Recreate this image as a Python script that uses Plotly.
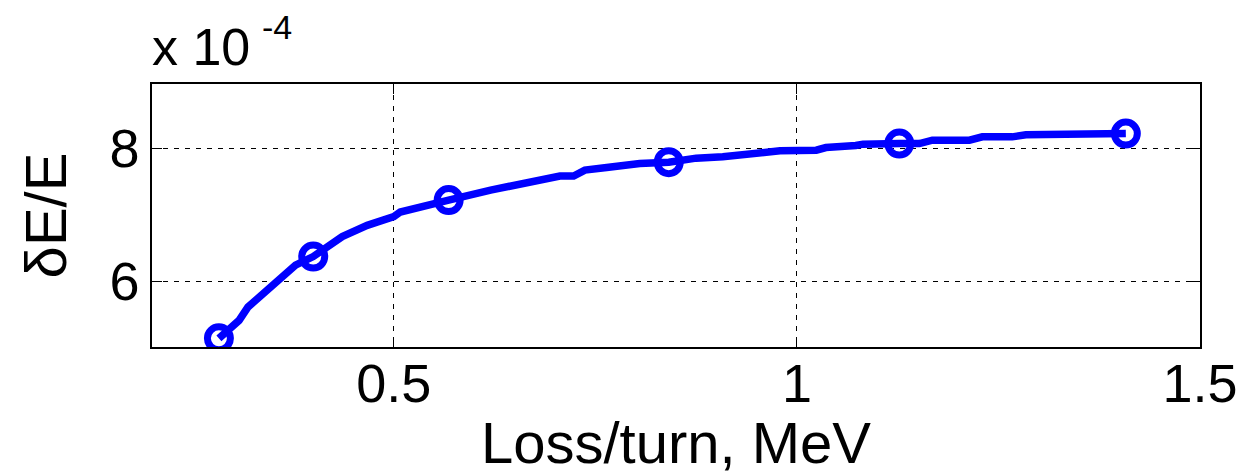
import plotly.graph_objects as go

# Energy spread (in units of 1e-4) versus energy loss per turn (MeV)
loss_mev = [0.283, 0.308, 0.319, 0.362, 0.378, 0.400, 0.436, 0.467, 0.500, 0.508,
            0.554, 0.568, 0.620, 0.669, 0.686, 0.706, 0.723, 0.737, 0.764, 0.805,
            0.841, 0.875, 0.908, 0.950, 0.979, 1.024, 1.036, 1.073, 1.082, 1.127,
            1.152, 1.168, 1.214, 1.230, 1.267, 1.284, 1.333, 1.350, 1.408]
spread_e4 = [5.14, 5.41, 5.61, 6.07, 6.24, 6.37, 6.67, 6.84, 6.97, 7.04,
             7.19, 7.22, 7.37, 7.49, 7.51, 7.58, 7.58, 7.67, 7.71, 7.77,
             7.79, 7.85, 7.87, 7.94, 7.96, 7.97, 8.01, 8.04, 8.06, 8.07,
             8.07, 8.12, 8.12, 8.17, 8.17, 8.20, 8.20, 8.22, 8.22]

# Computed operating points
point_loss = [0.283, 0.400, 0.568, 0.841, 1.127, 1.408]
point_spread_e4 = [5.14, 6.37, 7.22, 7.79, 8.07, 8.22]

x_ticks = [0.5, 1, 1.5]
x_tick_text = ["0.5", "1", "1.5"]
y_ticks = [6, 8]
y_tick_text = ["6", "8"]

FONT = "Liberation Sans, Arial, Helvetica, sans-serif"
BLUE = "#0000FF"

fig = go.Figure()
fig.add_trace(go.Scatter(
    x=loss_mev, y=spread_e4, mode="lines",
    line=dict(color=BLUE, width=7.5),
    showlegend=False, hoverinfo="skip",
))
fig.add_trace(go.Scatter(
    x=point_loss, y=point_spread_e4, mode="markers",
    marker=dict(symbol="circle-open", size=23, color=BLUE,
                line=dict(color=BLUE, width=7)),
    showlegend=False,
))

axis_common = dict(
    showline=True, linecolor="black", linewidth=1.5, mirror="ticks",
    ticks="inside", ticklen=10, tickcolor="black", tickwidth=1,
    showgrid=True, gridcolor="black", gridwidth=1, griddash="5px,6px",
    zeroline=False, automargin=False,
    tickfont=dict(family=FONT, size=54, color="black"),
)

fig.update_layout(
    width=1243, height=475,
    margin=dict(l=152, r=43, t=84, b=128),
    paper_bgcolor="white", plot_bgcolor="white",
    xaxis=dict(range=[0.2, 1.5], tickvals=x_ticks, ticktext=x_tick_text,
               ticklabelstandoff=-12,
               title=dict(text="Loss/turn, MeV", standoff=0,
                          font=dict(family=FONT, size=58, color="black")),
               **axis_common),
    yaxis=dict(range=[5.01, 8.965], tickvals=y_ticks, ticktext=y_tick_text,
               title=dict(text="δE/E", standoff=24,
                          font=dict(family=FONT, size=58, color="black")),
               **axis_common),
    annotations=[
        dict(text="x 10", xref="paper", yref="paper",
             x=0, y=1, xanchor="left", yanchor="bottom", yshift=6, xshift=-2,
             showarrow=False, font=dict(family=FONT, size=52, color="black")),
        dict(text="-4", xref="paper", yref="paper",
             x=0, y=1, xanchor="left", yanchor="bottom", yshift=36, xshift=108,
             showarrow=False, font=dict(family=FONT, size=34, color="black")),
    ],
)

fig.write_html("out.html")
